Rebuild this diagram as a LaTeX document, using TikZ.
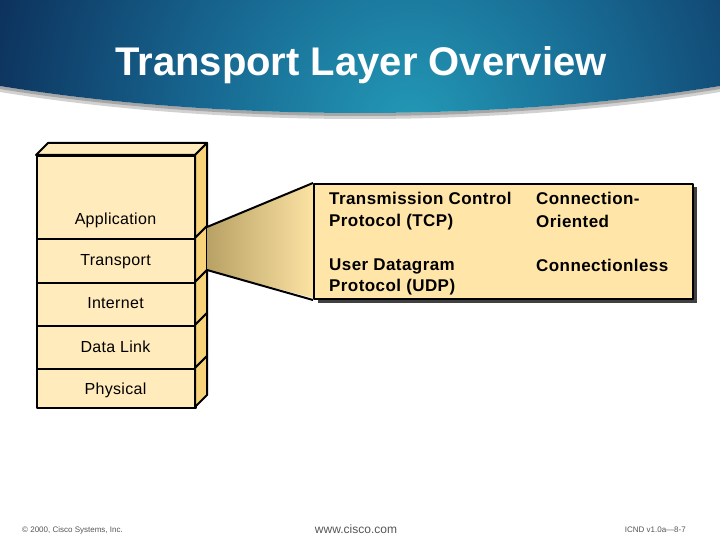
\documentclass[tikz,border=0pt]{standalone}
\usepackage{fontspec}
\setmainfont{Liberation Sans}
\usetikzlibrary{shadows}
\definecolor{bC}{HTML}{2399B6}
\definecolor{bM}{HTML}{176690}
\definecolor{bD}{HTML}{0A2550}
\definecolor{bE}{HTML}{061A3A}
\definecolor{frontc}{HTML}{FFEBBB}
\definecolor{sidec}{HTML}{F9D37A}
\definecolor{boxc}{HTML}{FFE6A8}
\definecolor{trapL}{HTML}{B8A164}
\definecolor{trapR}{HTML}{FCE3A4}
\definecolor{footc}{HTML}{555555}
\pgfdeclareradialshading{banner}{\pgfpoint{0bp}{0bp}}{color(0bp)=(bC); color(9bp)=(bM); color(20bp)=(bD); color(30bp)=(bE); color(50bp)=(bE)}
\tikzset{
  edge/.style={draw=black, line width=2pt, line join=round},
  layer/.style={edge, fill=frontc, minimum width=159pt, anchor=north west, inner sep=0pt},
  sidep/.style={edge, fill=sidec},
  lbl/.style={font=\fontsize{16}{18}\selectfont\addfontfeatures{LetterSpace=2}, anchor=base, inner sep=0pt},
  callt/.style={font=\fontsize{17}{20}\selectfont\bfseries\addfontfeatures{LetterSpace=2.5}, anchor=base west, inner sep=0pt},
  foot/.style={text=footc, inner sep=0pt}
}
\begin{document}
\begin{tikzpicture}[x=1pt,y=-1pt]
\useasboundingbox (0,0) rectangle (720,540);
% banner shadow
\fill[black!18] (0,86) .. controls (220,122) and (500,122) .. (720,86) -- (720,92) .. controls (500,128) and (220,128) .. (0,92) -- cycle;
\fill[black!35] (0,86) .. controls (220,122) and (500,122) .. (720,86) -- (720,89) .. controls (500,125) and (220,125) .. (0,89) -- cycle;
% banner
\begin{scope}
\clip (0,0) -- (720,0) -- (720,86) .. controls (500,122) and (220,122) .. (0,86) -- cycle;
\shade[shading=banner] (410,125) circle (600);
\end{scope}
\node[font=\fontsize{40}{44}\selectfont\bfseries, text=white, anchor=base, inner sep=0pt] (title) at (361,76) {Transport Layer Overview};
% stack
\fill[frontc, edge] (36,155) -- (48,143) -- (207,143) -- (195,155) -- cycle;
\node[layer, minimum height=83pt] (app) at (36,155) {};
\node[layer, minimum height=44pt] (trans) at (36,238) {};
\node[layer, minimum height=43pt] (inet) at (36,282) {};
\node[layer, minimum height=43pt] (dl) at (36,325) {};
\node[layer, minimum height=39pt] (phys) at (36,368) {};
\foreach \t/\b in {155/238, 238/282, 282/325, 325/368, 368/407}{
  \filldraw[sidep] (195,\t) -- (207,\t-12) -- (207,\b-12) -- (195,\b) -- cycle;
}
\node[lbl] (lapp) at (115.5,225) {Application};
\node[lbl] (ltrans) at (115.5,265) {Transport};
\node[lbl] (linet) at (115.5,308) {Internet};
\node[lbl] (ldl) at (115.5,352) {Data Link};
\node[lbl] (lphys) at (115.5,394) {Physical};
% callout
\coordinate (ta) at (207,227);
\coordinate (tb) at (207,270);
\shade[left color=trapL, right color=trapR] (ta) -- (313,183) -- (313,298) -- (tb) -- cycle;
\node[edge, fill=boxc, minimum width=379pt, minimum height=115pt, anchor=north west, inner sep=0pt,
  drop shadow={shadow xshift=3.5pt, shadow yshift=-3.5pt, fill=black!75, opacity=1}] (box) at (313,183) {};
\draw[edge] (ta) -- (box.north west);
\draw[edge] (tb) -- (box.south west);
\node[callt] (tcp1) at (329,205) {Transmission Control};
\node[callt] (tcp2) at (329,226) {Protocol (TCP)};
\node[callt] (udp1) at (329,270) {User Datagram};
\node[callt] (udp2) at (329,291) {Protocol (UDP)};
\node[callt] (co1) at (536,205) {Connection-};
\node[callt] (co2) at (536,227) {Oriented};
\node[callt] (cl) at (536,271) {Connectionless};
% footer
\node[foot, font=\fontsize{8}{9}\selectfont, anchor=base west] (copy) at (22,532) {© 2000, Cisco Systems, Inc.};
\node[foot, font=\fontsize{12}{14}\selectfont, anchor=base] (www) at (356,533) {www.cisco.com};
\node[foot, font=\fontsize{8}{9}\selectfont, anchor=base east] (icnd) at (686,532) {ICND v1.0a—8-7};
\end{tikzpicture}
\end{document}
